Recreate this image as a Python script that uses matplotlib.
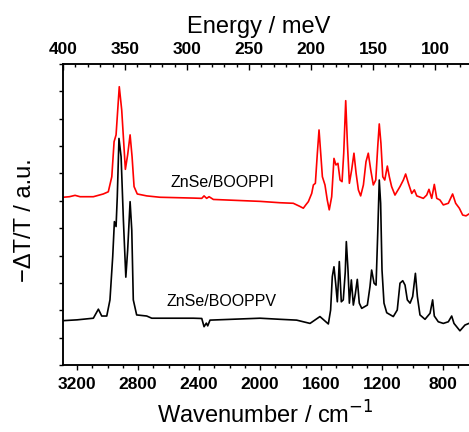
import numpy as np
import matplotlib
matplotlib.use("Agg")
import matplotlib.pyplot as plt
from matplotlib.ticker import MultipleLocator

# spectra: (wavenumber / cm-1, -dT/T offset in a.u.)
wn_ppi = [3292, 3250, 3213, 3180, 3093, 3028, 2995, 2972, 2957, 2944, 2923, 2907,
          2883, 2868, 2852, 2839, 2826, 2805, 2743, 2656, 2437, 2382, 2367, 2350,
          2334, 2306, 2000, 1869, 1782, 1740, 1716, 1700, 1683, 1661, 1650, 1637,
          1624, 1613, 1602, 1591, 1574, 1559, 1546, 1530, 1515, 1502, 1489, 1475,
          1462, 1451, 1438, 1427, 1414, 1399, 1384, 1370, 1355, 1340, 1322, 1305,
          1290, 1274, 1257, 1241, 1228, 1218, 1207, 1195, 1182, 1165, 1152, 1137,
          1115, 1082, 1060, 1045, 1027, 1005, 988, 972, 929, 907, 892, 874,
          857, 841, 820, 798, 765, 737, 717, 693, 671, 649, 630, 600]
dt_ppi = [6.13, 6.15, 6.20, 6.15, 6.15, 6.25, 6.33, 6.88, 8.16, 8.41, 10.17, 9.32,
          7.15, 7.68, 8.41, 7.61, 6.52, 6.25, 6.18, 6.13, 6.10, 6.09, 6.18, 6.09,
          6.15, 6.05, 5.98, 5.93, 5.91, 5.80, 5.73, 5.85, 5.97, 6.27, 6.58, 6.64,
          7.74, 8.59, 7.74, 6.88, 6.58, 6.03, 5.67, 6.15, 7.55, 7.31, 7.37, 6.76,
          6.70, 7.74, 9.66, 8.10, 6.64, 7.13, 7.74, 7.01, 6.40, 6.18, 6.58, 7.43,
          7.74, 7.13, 6.58, 6.76, 7.98, 8.81, 8.10, 6.88, 6.76, 7.27, 6.88, 6.52,
          6.21, 6.52, 6.76, 6.98, 6.64, 6.27, 6.40, 6.18, 6.09, 6.21, 6.42, 6.09,
          6.60, 6.09, 6.03, 5.85, 5.91, 6.25, 5.91, 5.73, 5.48, 5.45, 5.52, 5.55]

wn_ppv = [3292, 3200, 3093, 3060, 3038, 3005, 2984, 2966, 2955, 2944, 2936, 2925,
          2911, 2896, 2880, 2868, 2852, 2841, 2831, 2809, 2743, 2710, 2437, 2382,
          2367, 2352, 2343, 2328, 2000, 1869, 1760, 1672, 1607, 1552, 1537, 1526,
          1515, 1504, 1493, 1480, 1467, 1454, 1441, 1434, 1423, 1414, 1401, 1388,
          1375, 1362, 1349, 1333, 1296, 1279, 1268, 1252, 1239, 1228, 1218, 1209,
          1200, 1187, 1169, 1126, 1100, 1082, 1064, 1049, 1034, 1016, 999, 981,
          968, 951, 918, 885, 868, 857, 831, 798, 765, 743, 728, 689, 656, 630, 600]
dt_ppv = [1.62, 1.65, 1.71, 2.04, 1.79, 1.79, 2.38, 3.96, 5.24, 5.06, 6.15, 8.28,
          7.61, 5.30, 3.21, 4.20, 5.97, 4.93, 2.38, 1.83, 1.79, 1.71, 1.71, 1.70,
          1.40, 1.53, 1.43, 1.64, 1.71, 1.67, 1.64, 1.52, 1.77, 1.50, 2.01, 3.23,
          3.59, 2.99, 2.31, 3.78, 2.31, 2.38, 3.40, 4.51, 3.47, 2.26, 3.11, 2.19,
          2.60, 3.13, 2.26, 2.07, 2.19, 2.86, 3.47, 2.99, 2.92, 4.82, 6.76, 5.91,
          3.47, 2.26, 1.91, 1.77, 2.01, 2.99, 3.08, 2.92, 2.38, 2.26, 2.50, 3.35,
          2.50, 1.83, 1.67, 1.89, 2.38, 1.79, 1.58, 1.52, 1.58, 1.79, 1.52, 1.25,
          1.46, 1.52, 1.55]

labels = ["ZnSe/BOOPPI", "ZnSe/BOOPPV"]
wn_ticks = [3200, 2800, 2400, 2000, 1600, 1200, 800]
mev_ticks = [400, 350, 300, 250, 200, 150, 100]

plt.rcParams['font.family'] = ['Liberation Sans', 'DejaVu Sans']

W, H = 469, 432
fig = plt.figure(figsize=(W / 100, H / 100), dpi=100)
# axes spans x 63..473.5 px (cut by the right edge), y 64..365 px
ax = fig.add_axes([63 / W, (H - 365) / H, 410.5 / W, 301 / H])

ax.plot(wn_ppi, dt_ppi, color='#ff0000', lw=1.2)
ax.plot(wn_ppv, dt_ppv, color='black', lw=1.2)

ax.text(2590, 6.5, labels[0], fontsize=11.5, ha='left', va='baseline')
ax.text(2610, 2.15, labels[1], fontsize=11.5, ha='left', va='baseline')

ax.set_xlim(3292, 600)
ax.set_ylim(0, 11)
ax.set_xticks(wn_ticks)
ax.xaxis.set_minor_locator(MultipleLocator(100))
ax.yaxis.set_major_locator(MultipleLocator(1))
ax.set_yticklabels([])
ax.tick_params(axis='x', which='major', direction='out', length=3.6, width=1,
               pad=5, labelsize=12.5)
ax.tick_params(axis='x', which='minor', direction='out', length=2, width=1)
ax.tick_params(axis='y', direction='out', length=3, width=1)
for lab in ax.get_xticklabels():
    lab.set_fontweight('bold')
for s in ax.spines.values():
    s.set_linewidth(1.1)
ax.spines['right'].set_visible(False)

ax.set_xlabel("Wavenumber / cm$^{-1}$", fontsize=17)
ax.xaxis.set_label_coords(0.492, -0.122)
ax.set_ylabel("\u2212\u0394T/T / a.u.", fontsize=17)
ax.yaxis.set_label_coords(-0.065, 0.48)

# top energy axis
ax2 = ax.twiny()
ax2.set_xlim(400, 400 - 410.5 / 1.24)
ax2.set_xticks(mev_ticks)
ax2.xaxis.set_minor_locator(MultipleLocator(10))
ax2.tick_params(axis='x', which='major', direction='in', length=4.3, width=1,
                pad=5, labelsize=12.5)
ax2.tick_params(axis='x', which='minor', direction='in', length=2.2, width=1)
for lab in ax2.get_xticklabels():
    lab.set_fontweight('bold')
ax2.spines['right'].set_visible(False)
for s in ax2.spines.values():
    s.set_linewidth(1.1)
ax2.set_xlabel("Energy / meV", fontsize=17)
ax2.xaxis.set_label_coords(0.477, 1.103)

fig.savefig("out.png", dpi=100)
